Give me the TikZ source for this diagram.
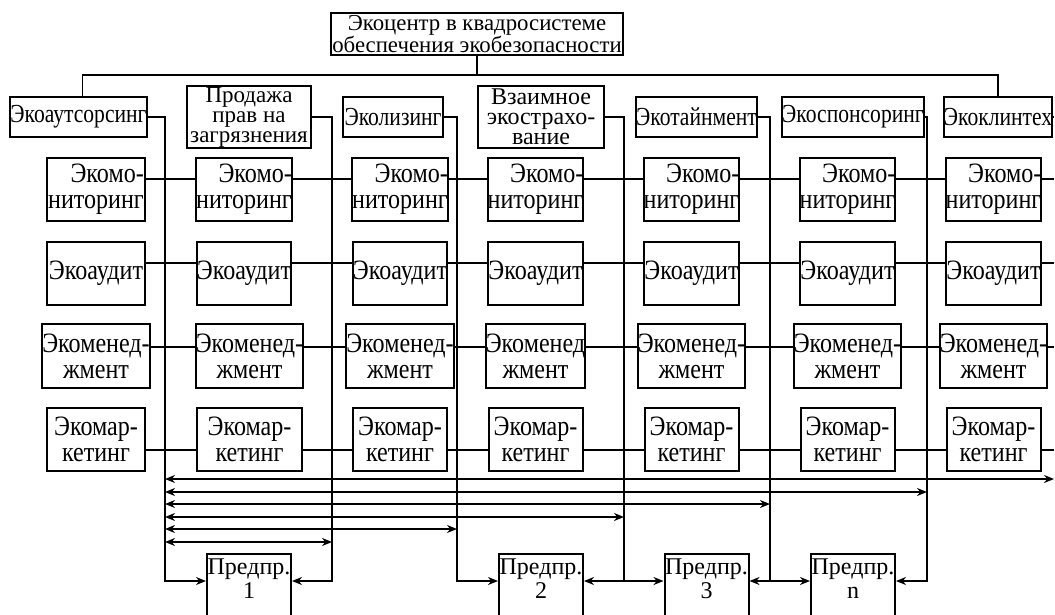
\documentclass[tikz,border=0pt]{standalone}
\usepackage{fontspec}
\setmainfont{Liberation Serif}
\newfontfamily\plainface{Liberation Serif}
\newfontfamily\tallface[FakeStretch=0.83]{Liberation Serif}
\newfontfamily\gridface[FakeStretch=0.86]{Liberation Serif}
\usetikzlibrary{arrows.meta}

\begin{document}
\begin{tikzpicture}[x=1pt,y=-1pt,line width=1.6pt,
                    >={Stealth[length=10pt,width=8pt]}]
\useasboundingbox (0,0) rectangle (1055,614);
\clip (0,0) rectangle (1055,614);

% rails and bends
\coordinate (bus) at (0,75);
\coordinate (low) at (0,581);
\coordinate (edge) at (1054,0);
\coordinate (v1) at (165,0);
\coordinate (v2) at (332,0);
\coordinate (v3) at (457,0);
\coordinate (v4) at (624,0);
\coordinate (v5) at (770,0);
\coordinate (v6) at (927,0);

\begin{scope}[every node/.style={draw,line width=2pt,inner sep=0pt,align=center,
              minimum height=40,font=\tallface\fontsize{26}{22}\selectfont}]
    \node[minimum width=292,minimum height=42,font=\plainface\fontsize{22.8}{20}\selectfont]
        (eco) at (477,34) {Экоцентр в квадросистеме\\обеспечения экобезопасности};
    \node[minimum width=133] (out) at (78.5,117) {Экоаутсорсинг};
    \node[minimum width=124,minimum height=62,font=\plainface\fontsize{23}{20}\selectfont]
        (sale) at (249,117) {Продажа\\прав на\\загрязнения};
    \node[minimum width=100] (lease) at (393,117) {Эколизинг};
    \node[minimum width=126,minimum height=62,font=\plainface\fontsize{24}{20}\selectfont]
        (ins) at (541,117) {Взаимное\\экострахо-\\вание};
    \node[minimum width=121] (tain) at (696.5,117) {Экотайнмент};
    \node[minimum width=142] (spon) at (853,117) {Экоспонсоринг};
    \node[minimum width=106] (clean) at (998,117) {Экоклинтех};
\end{scope}

\begin{scope}[every node/.style={draw,line width=2pt,inner sep=0pt,align=center,
              minimum width=94,minimum height=63,font=\gridface\fontsize{28}{26}\selectfont}]
    \node[align=right,minimum width=98] (mon1) at (96,189.5) {Экомо-\\ниторинг};
    \node[align=right] (mon2) at (244,189.5) {Экомо-\\ниторинг};
    \node[align=right] (mon3) at (400,189.5) {Экомо-\\ниторинг};
    \node[align=right] (mon4) at (535.5,189.5) {Экомо-\\ниторинг};
    \node[align=right] (mon5) at (691.5,189.5) {Экомо-\\ниторинг};
    \node[align=right] (mon6) at (847.5,189.5) {Экомо-\\ниторинг};
    \node[align=right] (mon7) at (993.5,189.5) {Экомо-\\ниторинг};

    \node[minimum width=98] (aud1) at (96,273.5) {Экоаудит};
    \node (aud2) at (244,273.5) {Экоаудит};
    \node (aud3) at (400,273.5) {Экоаудит};
    \node (aud4) at (535.5,273.5) {Экоаудит};
    \node (aud5) at (691.5,273.5) {Экоаудит};
    \node (aud6) at (847.5,273.5) {Экоаудит};
    \node (aud7) at (993.5,273.5) {Экоаудит};

    \node[minimum width=98,minimum height=64] (man1) at (96,356) {Экоменед-\\жмент};
    \node[minimum width=105,minimum height=64] (man2) at (249.5,356) {Экоменед-\\жмент};
    \node[minimum height=64] (man3) at (400,356) {Экоменед-\\жмент};
    \node[minimum height=64] (man4) at (535.5,356) {Экоменед\\жмент};
    \node[minimum height=64] (man5) at (691.5,356) {Экоменед-\\жмент};
    \node[minimum height=64] (man6) at (847.5,356) {Экоменед-\\жмент};
    \node[minimum height=64] (man7) at (993.5,356) {Экоменед-\\жмент};

    \node[minimum width=98] (mar1) at (96,439.5) {Экомар-\\кетинг};
    \node[minimum width=105] (mar2) at (249.5,439.5) {Экомар-\\кетинг};
    \node (mar3) at (400,439.5) {Экомар-\\кетинг};
    \node (mar4) at (535.5,439.5) {Экомар-\\кетинг};
    \node (mar5) at (691.5,439.5) {Экомар-\\кетинг};
    \node (mar6) at (847.5,439.5) {Экомар-\\кетинг};
    \node (mar7) at (993.5,439.5) {Экомар-\\кетинг};
\end{scope}

\begin{scope}[every node/.style={draw,line width=2pt,minimum width=84,minimum height=86}]
    \node (p1) at (249,597) {};
    \node (p2) at (541,597) {};
    \node (p3) at (706.5,597) {};
    \node (pn) at (853,597) {};
\end{scope}

\begin{scope}[every node/.style={inner sep=0pt,anchor=north,align=center,
              font=\plainface\fontsize{24}{24}\selectfont}]
    \node (p1t) at ([yshift=-5pt]p1.north) {Предпр.\\1};
    \node (p2t) at ([yshift=-5pt]p2.north) {Предпр.\\2};
    \node (p3t) at ([yshift=-5pt]p3.north) {Предпр.\\3};
    \node (pnt) at ([yshift=-5pt]pn.north) {Предпр.\\n};
\end{scope}

% tree on top
\draw (eco.south) -- (eco.south |- bus);
\draw ([xshift=4pt]out.north) -- ([xshift=4pt]out.north |- bus) -- (clean.north |- bus) -- (clean.north);

% rows of services
\begin{scope}[every edge/.style={draw=black,line width=1.6pt}]
    \path [-] ([yshift=10.5pt]mon1.east) edge ([yshift=10.5pt]mon2.west);
    \path [-] ([yshift=10.5pt]mon2.east) edge ([yshift=10.5pt]mon3.west);
    \path [-] ([yshift=10.5pt]mon3.east) edge ([yshift=10.5pt]mon4.west);
    \path [-] ([yshift=10.5pt]mon4.east) edge ([yshift=10.5pt]mon5.west);
    \path [-] ([yshift=10.5pt]mon5.east) edge ([yshift=10.5pt]mon6.west);
    \path [-] ([yshift=10.5pt]mon6.east) edge ([yshift=10.5pt]mon7.west);
    \path [-] ([yshift=10.5pt]mon7.east) edge ([yshift=10.5pt]mon7.east -| edge);

    \path [-] ([yshift=10.5pt]aud1.east) edge ([yshift=10.5pt]aud2.west);
    \path [-] ([yshift=10.5pt]aud2.east) edge ([yshift=10.5pt]aud3.west);
    \path [-] ([yshift=10.5pt]aud3.east) edge ([yshift=10.5pt]aud4.west);
    \path [-] ([yshift=10.5pt]aud4.east) edge ([yshift=10.5pt]aud5.west);
    \path [-] ([yshift=10.5pt]aud5.east) edge ([yshift=10.5pt]aud6.west);
    \path [-] ([yshift=10.5pt]aud6.east) edge ([yshift=10.5pt]aud7.west);
    \path [-] ([yshift=10.5pt]aud7.east) edge ([yshift=10.5pt]aud7.east -| edge);

    \path [-] ([yshift=9pt]man1.east) edge ([yshift=9pt]man2.west);
    \path [-] ([yshift=9pt]man2.east) edge ([yshift=9pt]man3.west);
    \path [-] ([yshift=9pt]man3.east) edge ([yshift=9pt]man4.west);
    \path [-] ([yshift=9pt]man4.east) edge ([yshift=9pt]man5.west);
    \path [-] ([yshift=9pt]man5.east) edge ([yshift=9pt]man6.west);
    \path [-] ([yshift=9pt]man6.east) edge ([yshift=9pt]man7.west);
    \path [-] ([yshift=9pt]man7.east) edge ([yshift=9pt]man7.east -| edge);

    \path [-] ([yshift=-10.5pt]mar1.east) edge ([yshift=-10.5pt]mar2.west);
    \path [-] ([yshift=-10.5pt]mar2.east) edge ([yshift=-10.5pt]mar3.west);
    \path [-] ([yshift=-10.5pt]mar3.east) edge ([yshift=-10.5pt]mar4.west);
    \path [-] ([yshift=-10.5pt]mar4.east) edge ([yshift=-10.5pt]mar5.west);
    \path [-] ([yshift=-10.5pt]mar5.east) edge ([yshift=-10.5pt]mar6.west);
    \path [-] ([yshift=-10.5pt]mar6.east) edge ([yshift=-10.5pt]mar7.west);
    \path [-] ([yshift=-10.5pt]mar7.east) edge ([yshift=-10.5pt]mar7.east -| edge);
\end{scope}

% from the forms down to the firms
\draw[->] (out.east) -| (v1 |- low) -- (p1.west |- low);
\draw[->] (sale.east) -| (v2 |- low) -- (p1.east |- low);
\draw[->] (lease.east) -| (v3 |- low) -- (p2.west |- low);
\draw (ins.east) -| (v4 |- low);
\draw (tain.east) -| (v5 |- low);
\draw[->] (spon.east) -| (v6 |- low) -- (pn.east |- low);
\draw (clean.east) -- (clean.east -| edge);
\draw[<->] (p2.east |- low) -- (p3.west |- low);
\draw[<->] (p3.east |- low) -- (pn.west |- low);

% links between the forms
\draw[<->] (v1 |- 0,479) -- (edge |- 0,479);
\draw[<->] (v1 |- 0,492) -- (v6 |- 0,492);
\draw[<->] (v1 |- 0,504) -- (v5 |- 0,504);
\draw[<->] (v1 |- 0,517) -- (v4 |- 0,517);
\draw[<->] (v1 |- 0,529) -- (v3 |- 0,529);
\draw[<->] (v1 |- 0,542) -- (v2 |- 0,542);
\end{tikzpicture}
\end{document}
